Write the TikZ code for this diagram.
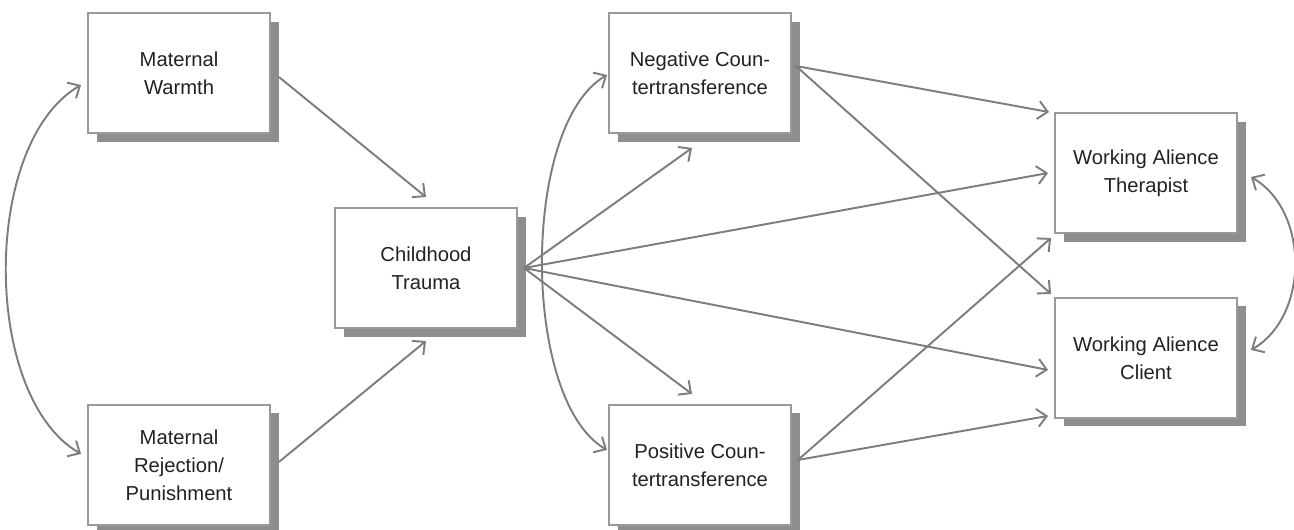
\documentclass[tikz,border=0pt]{standalone}
\usepackage{fontspec}
\setmainfont{Liberation Sans}
\usetikzlibrary{arrows.meta,shadows,positioning}

\definecolor{linegray}{HTML}{7D7D7D}
\definecolor{boxgray}{HTML}{9A9A9A}
\definecolor{shadegray}{HTML}{8E8E8E}
\definecolor{textgray}{HTML}{222222}

\begin{document}
\begin{tikzpicture}[auto, >={Straight Barb[length=1.9mm,width=3.6mm]},
  box/.style={draw=boxgray, line width=1.1pt, fill=white, text=textgray,
    minimum width=3.64cm, minimum height=2.4cm, align=center,
    font=\fontsize{11.5}{16}\selectfont,
    drop shadow={shadow xshift=1.7mm, shadow yshift=-1.7mm, fill=shadegray, opacity=1}},
  path/.style={->, draw=linegray, line width=1.1pt},
  cov/.style={<->, draw=linegray, line width=1.1pt}]
  \useasboundingbox (0,0) rectangle (25.88,-10.58);

  \node[box] (mw) at (3.58,-1.46) {Maternal\\Warmth};
  \node[box] (mr) [below=5.4cm of mw] {Maternal\\Rejection/\\Punishment};
  \node[box] (ct) at (8.52,-5.36) {Childhood\\Trauma};
  \node[box] (nc) at (14.0,-1.46) {Negative Coun-\\tertransference};
  \node[box] (pc) [below=5.4cm of nc] {Positive Coun-\\tertransference};
  \node[box] (wat) at (22.92,-3.46) {Working Alience\\Therapist};
  \node[box] (wac) [below=1.26cm of wat] {Working Alience\\Client};

  \coordinate (ctout) at ([xshift=1.2mm]ct.east);
  \coordinate (ncout) at ([shift={(0.8mm,1.4mm)}]nc.east);
  \coordinate (pcout) at ([shift={(1.2mm,1mm)}]pc.east);

  % mothers -> trauma
  \draw[path] ([shift={(1.6mm,-0.8mm)}]mw.east) -- ([yshift=2mm]ct.north);
  \draw[path] ([shift={(1.6mm,0.6mm)}]mr.east) -- ([yshift=-2.4mm]ct.south);

  % trauma -> rest
  \draw[path] (ctout) -- ([xshift=-1.6mm,yshift=-2.8mm]nc.south);
  \draw[path] (ctout) -- ([xshift=-1.6mm,yshift=2mm]pc.north);
  \draw[path] (ctout) -- ([xshift=-1.2mm]wat.west);
  \draw[path] (ctout) -- ([shift={(-1.2mm,-2.4mm)}]wac.west);

  % countertransference -> alliance
  \draw[path] (ncout) -- ([xshift=-1mm]wat.north west);
  \draw[path] (ncout) -- ([shift={(-0.6mm,0.6mm)}]wac.north west);
  \draw[path] (pcout) -- ([shift={(-0.6mm,-0.8mm)}]wat.south west);
  \draw[path] (pcout) -- ([shift={(-1.2mm,0.6mm)}]wac.south west);

  % covariances
  \draw[cov] ([shift={(-1.2mm,-2.4mm)}]mw.west) to[out=210,in=150,looseness=0.8]
    ([shift={(-1.2mm,2.2mm)}]mr.west);
  \draw[cov] ([shift={(-0.2mm,-0.4mm)}]nc.west) to[out=210,in=150,looseness=0.68]
    ([shift={(-0.2mm,3mm)}]pc.west);
  \draw[cov] ([shift={(2.6mm,-0.8mm)}]wat.east) to[out=-30,in=30,looseness=1]
    ([shift={(2.6mm,1.6mm)}]wac.east);
\end{tikzpicture}
\end{document}
